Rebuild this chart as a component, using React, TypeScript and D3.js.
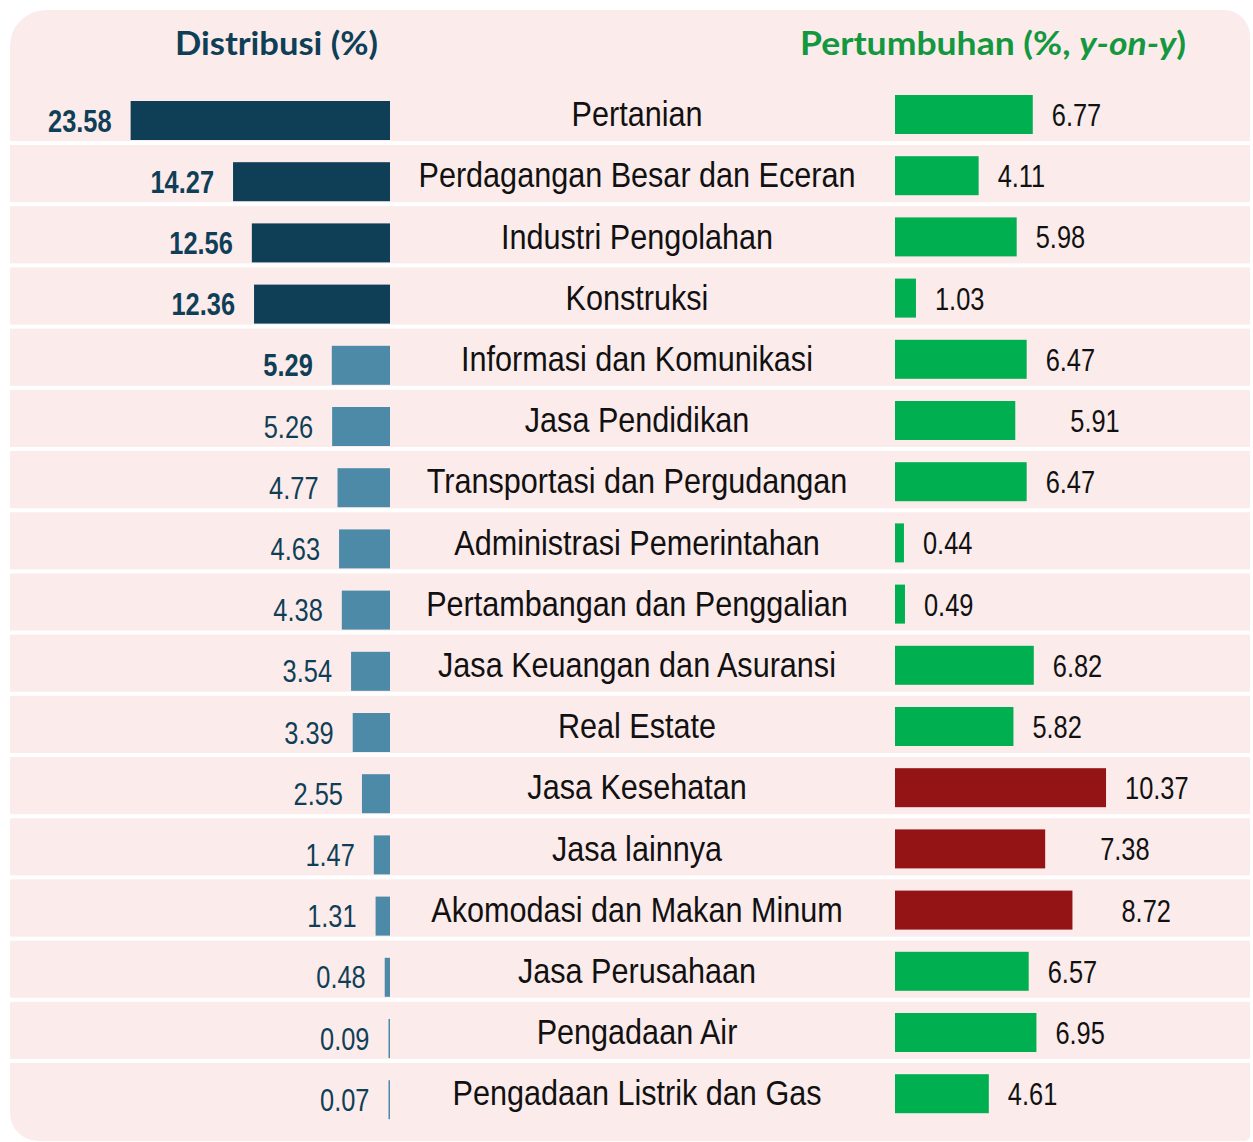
import React from 'react';
import * as d3 from 'd3';

const categories = [
  'Pertanian',
  'Perdagangan Besar dan Eceran',
  'Industri Pengolahan',
  'Konstruksi',
  'Informasi dan Komunikasi',
  'Jasa Pendidikan',
  'Transportasi dan Pergudangan',
  'Administrasi Pemerintahan',
  'Pertambangan dan Penggalian',
  'Jasa Keuangan dan Asuransi',
  'Real Estate',
  'Jasa Kesehatan',
  'Jasa lainnya',
  'Akomodasi dan Makan Minum',
  'Jasa Perusahaan',
  'Pengadaan Air',
  'Pengadaan Listrik dan Gas',
];

const distribution = [23.58, 14.27, 12.56, 12.36, 5.29, 5.26, 4.77, 4.63, 4.38, 3.54, 3.39, 2.55, 1.47, 1.31, 0.48, 0.09, 0.07];
const growth = [6.77, 4.11, 5.98, 1.03, 6.47, 5.91, 6.47, 0.44, 0.49, 6.82, 5.82, 10.37, 7.38, 8.72, 6.57, 6.95, 4.61];

const boldCount = 5;
const highlightDistribution = 10; // above -> dark bar
const highlightGrowth = 7; // above -> red bar

// extra spacing of some growth labels as in the original
const growthLabelShift: Record<string, number> = {
  'Jasa Pendidikan': 36,
  'Jasa lainnya': 36,
  'Akomodasi dan Makan Minum': 30,
};

const NUM_FONT = '"Liberation Sans", Arial, sans-serif';
const HEAD_FONT = 'Lato, "Open Sans", sans-serif';

function NarrowText(props: {
  x: number;
  y: number;
  size: number;
  sx: number;
  anchor?: 'start' | 'middle' | 'end';
  weight?: number;
  fill: string;
  children: React.ReactNode;
}) {
  return (
    <g transform={`translate(${props.x},${props.y}) scale(${props.sx},1)`}>
      <text
        x={0}
        y={0}
        textAnchor={props.anchor || 'start'}
        fontFamily={NUM_FONT}
        fontSize={props.size}
        fontWeight={props.weight || 400}
        fill={props.fill}
      >
        {props.children}
      </text>
    </g>
  );
}

export default function App() {
  const W = 1253;
  const H = 1142;
  const pitch = 61.2;
  const top = 83.8;
  const y = d3
    .scaleBand<string>()
    .domain(categories)
    .range([top, top + pitch * categories.length])
    .padding(0);
  const xL = d3.scaleLinear().domain([0, 25]).range([390, 390 - 275]);
  const xR = d3.scaleLinear().domain([0, 10]).range([895, 895 + 203.5]);

  const px0 = 10, px1 = 1250, py0 = 10, py1 = 1141;
  const rTL = 36, rTR = 26, rBR = 5, rBL = 28;
  const panel = `M${px0},${py0 + rTL} A${rTL},${rTL} 0 0 1 ${px0 + rTL},${py0}
    L${px1 - rTR},${py0} A${rTR},${rTR} 0 0 1 ${px1},${py0 + rTR}
    L${px1},${py1 - rBR} A${rBR},${rBR} 0 0 1 ${px1 - rBR},${py1}
    L${px0 + rBL},${py1} A${rBL},${rBL} 0 0 1 ${px0},${py1 - rBL} Z`;

  return (
    <svg width={W} height={H} style={{ position: 'absolute', left: 0, top: 0 }}>
      <rect x={0} y={0} width={W} height={H} fill="#ffffff" />
      <path d={panel} fill="#FCEBEB" />
      {categories.slice(0, -1).map((c) => (
        <rect key={'sep' + c} x={px0} y={(y(c) as number) + 57.2} width={px1 - px0} height={4} fill="#ffffff" />
      ))}
      <text
        x={175}
        y={54.5}
        textLength={203}
        lengthAdjust="spacingAndGlyphs"
        fontFamily={HEAD_FONT}
        fontWeight={700}
        fontSize={32}
        fill="#0F3F57"
      >
        Distribusi (%)
      </text>
      <text
        x={800}
        y={54.5}
        textLength={386}
        lengthAdjust="spacingAndGlyphs"
        fontFamily={HEAD_FONT}
        fontWeight={700}
        fontSize={32}
        fill="#13983F"
      >
        Pertumbuhan (%, <tspan fontStyle="italic">y-on-y</tspan>)
      </text>
      {categories.map((c, i) => {
        const by = y(c) as number;
        const d = distribution[i];
        const g = growth[i];
        const wL = Math.max(1.5, xL(0) - xL(d));
        const wR = xR(g) - xR(0);
        return (
          <g key={c}>
            <rect x={xL(0) - wL} y={by + 17.2} width={wL} height={39} fill={d > highlightDistribution ? '#0F3F57' : '#4C8AA8'} />
            <NarrowText
              x={xL(0) - wL - 19}
              y={by + 47.7}
              anchor="end"
              size={31}
              sx={0.82}
              weight={i < boldCount ? 700 : 400}
              fill="#0F3F57"
            >
              {d.toFixed(2)}
            </NarrowText>
            <NarrowText x={637} y={by + 42.3} anchor="middle" size={36} sx={0.85} fill="#111111">
              {c}
            </NarrowText>
            <rect x={xR(0)} y={by + 11.2} width={wR} height={39} fill={g > highlightGrowth ? '#941416' : '#00AF50'} />
            <NarrowText x={xR(g) + 19 + (growthLabelShift[c] || 0)} y={by + 42.2} size={31} sx={0.82} fill="#111111">
              {g.toFixed(2)}
            </NarrowText>
          </g>
        );
      })}
    </svg>
  );
}
